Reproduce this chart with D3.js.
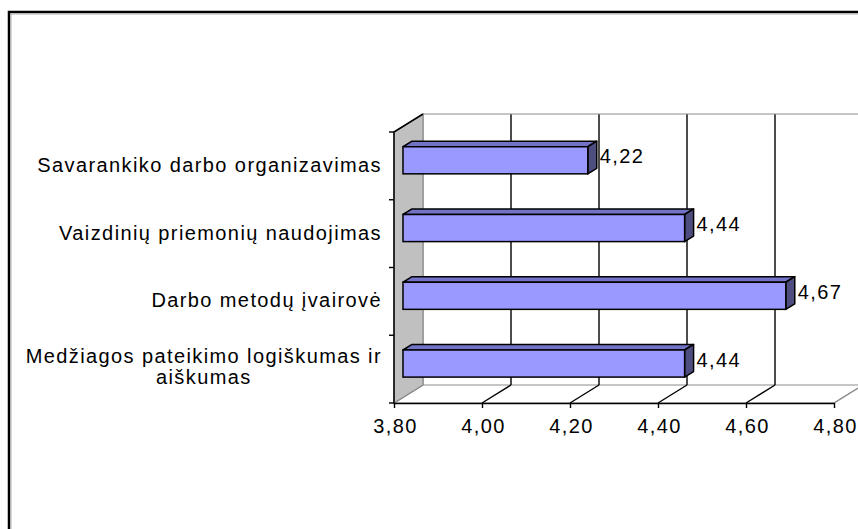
<!DOCTYPE html>
<html>
<head>
<meta charset="utf-8">
<script src="https://cdn.jsdelivr.net/npm/d3@7"></script>
<style>
  body { margin: 0; background: #fff; }
  svg { display: block; }
  text { font-family: "Liberation Sans", Arial, sans-serif; font-size: 20px; letter-spacing: 1.4px; fill: #000; }
</style>
</head>
<body>
<div id="chart"></div>
<script>
  // categories top to bottom, as they appear on the chart
  const categories = [
    "Savarankiko darbo organizavimas",
    "Vaizdinių priemonių naudojimas",
    "Darbo metodų įvairovė",
    "Medžiagos pateikimo logiškumas ir aiškumas"
  ];
  const values = [4.22, 4.44, 4.67, 4.44];
  const xTicks = [3.80, 4.00, 4.20, 4.40, 4.60, 4.80];

  const W = 858, H = 529;
  // 3d box: offset of the back plane from the front plane
  const DX = 29, DY = 18;
  const barD0 = 0.31, barD1 = 0.62;  // depth span of the bars
  const barFrac = 0.4;
  const FS = 20;

  const lt = d3.formatLocale({decimal: ",", thousands: " ", grouping: [3], currency: ["", ""]});
  const fmt = lt.format(".2f");

  const svg = d3.select("#chart").append("svg")
    .attr("width", W)
    .attr("height", H);

  // chart area border
  svg.append("rect")
    .attr("x", 9).attr("y", 12)
    .attr("width", 1000).attr("height", 1000)
    .attr("fill", "#fff")
    .attr("stroke", "#000")
    .attr("stroke-width", 2.5);
  svg.append("path")
    .attr("d", "M11,1000V14H1000")
    .attr("fill", "none")
    .attr("stroke", "#b0b0b0")
    .attr("stroke-width", 1);

  const x = d3.scaleLinear()
    .domain([3.8, 4.8])
    .range([394, 834]);

  const y = d3.scaleBand()
    .domain(categories)
    .range([132, 403]);

  const x0 = x.range()[0], x1 = x.range()[1];
  const yTop = y.range()[0], yBot = y.range()[1];

  // back wall
  svg.append("rect")
    .attr("x", x0 + DX).attr("y", yTop - DY)
    .attr("width", x1 - x0).attr("height", yBot - yTop)
    .attr("fill", "#fff");

  // floor
  svg.append("path")
    .attr("d", `M${x0},${yBot}L${x1},${yBot}L${x1 + DX},${yBot - DY}L${x0 + DX},${yBot - DY}Z`)
    .attr("fill", "#fff")
    .attr("stroke", "#8c8c8c")
    .attr("stroke-width", 1.2);

  // gridlines: back wall and floor
  const grid = svg.append("g");
  xTicks.forEach(function (t, i) {
    const inner = i > 0 && i < xTicks.length - 1;
    const col = inner ? "#000" : "#8c8c8c";
    grid.append("line")
      .attr("x1", x(t) + DX).attr("x2", x(t) + DX)
      .attr("y1", yTop - DY).attr("y2", yBot - DY)
      .attr("stroke", col)
      .attr("stroke-width", inner ? 1.4 : 1.2);
    grid.append("line")
      .attr("x1", x(t)).attr("y1", yBot)
      .attr("x2", x(t) + DX).attr("y2", yBot - DY)
      .attr("stroke", col)
      .attr("stroke-width", inner ? 1.4 : 1.2);
  });
  // top edge of back wall
  grid.append("line")
    .attr("x1", x0 + DX).attr("x2", x1 + DX)
    .attr("y1", yTop - DY).attr("y2", yTop - DY)
    .attr("stroke", "#8c8c8c")
    .attr("stroke-width", 1.2);

  // left wall
  svg.append("path")
    .attr("d", `M${x0},${yTop}L${x0 + DX},${yTop - DY}L${x0 + DX},${yBot - DY}L${x0},${yBot}Z`)
    .attr("fill", "#c0c0c0")
    .attr("stroke", "#8c8c8c")
    .attr("stroke-width", 1.2);
  svg.append("path")
    .attr("d", `M${x0 + DX},${yTop - DY}L${x0},${yTop}L${x0},${yBot}`)
    .attr("fill", "none")
    .attr("stroke", "#000")
    .attr("stroke-width", 1.5);

  // category ticks on the front edge of the left wall
  const bounds = categories.map(function (c) { return y(c); }).concat([yBot]);
  svg.append("g").selectAll("line")
    .data(bounds)
    .join("line")
    .attr("x1", x0 - 5).attr("x2", x0)
    .attr("y1", function (d) { return d; })
    .attr("y2", function (d) { return d; })
    .attr("stroke", "#000")
    .attr("stroke-width", 1.4);

  // bottom value axis
  const axis = svg.append("g")
    .attr("transform", "translate(0," + yBot + ")")
    .call(d3.axisBottom(x)
      .tickValues(xTicks)
      .tickFormat(fmt)
      .tickSize(5)
      .tickSizeOuter(0)
      .tickPadding(11));
  axis.attr("font-family", null).attr("font-size", null);
  axis.select(".domain").attr("stroke", "#000").attr("stroke-width", 1.5);
  axis.selectAll(".tick line").attr("stroke", "#000").attr("stroke-width", 1.4);
  axis.selectAll(".tick text")
    .attr("fill", "#000")
    .attr("dx", "0.05em");

  // bars
  const dd = barD1 - barD0;
  const bars = svg.append("g")
    .selectAll("g")
    .data(categories.map(function (c, i) { return {cat: c, value: values[i]}; }))
    .join("g");

  function frontBox(d) {
    const bh = y.bandwidth() * barFrac;
    const yc = y(d.cat) + y.bandwidth() / 2 - barD0 * DY;
    return {
      l: x(3.8) + barD0 * DX,
      r: x(d.value) + barD0 * DX,
      t: yc - bh / 2,
      b: yc + bh / 2,
      c: yc
    };
  }

  bars.append("path")
    .attr("d", function (d) {
      const f = frontBox(d);
      return `M${f.l},${f.t}L${f.r},${f.t}L${f.r + dd * DX},${f.t - dd * DY}L${f.l + dd * DX},${f.t - dd * DY}Z`;
    })
    .attr("fill", "#7272c6")
    .attr("stroke", "#000")
    .attr("stroke-width", 1.5)
    .attr("stroke-linejoin", "round");

  bars.append("path")
    .attr("d", function (d) {
      const f = frontBox(d);
      return `M${f.r},${f.t}L${f.r + dd * DX},${f.t - dd * DY}L${f.r + dd * DX},${f.b - dd * DY}L${f.r},${f.b}Z`;
    })
    .attr("fill", "#4d4d80")
    .attr("stroke", "#000")
    .attr("stroke-width", 1.5)
    .attr("stroke-linejoin", "round");

  bars.append("rect")
    .attr("x", function (d) { return frontBox(d).l; })
    .attr("y", function (d) { return frontBox(d).t; })
    .attr("width", function (d) { const f = frontBox(d); return f.r - f.l; })
    .attr("height", function (d) { const f = frontBox(d); return f.b - f.t; })
    .attr("fill", "#9999ff")
    .attr("stroke", "#000")
    .attr("stroke-width", 1.5);

  // value labels
  bars.append("text")
    .attr("x", function (d) { return frontBox(d).r + dd * DX + 3; })
    .attr("y", function (d) { return frontBox(d).c - 4; })
    .attr("dy", "0.35em")
    .text(function (d) { return fmt(d.value); });

  // category labels, wrapped and centred in a right aligned block
  const labelRight = 382, maxW = 372, lineH = 21;
  const labels = svg.append("g");
  categories.forEach(function (c) {
    const words = c.split(" ");
    const lines = [];
    let cur = "";
    const probe = labels.append("text");
    words.forEach(function (w) {
      const tryLine = cur ? cur + " " + w : w;
      probe.text(tryLine);
      if (probe.node().getComputedTextLength() > maxW && cur) {
        lines.push(cur);
        cur = w;
      } else {
        cur = tryLine;
      }
    });
    lines.push(cur);
    const widths = lines.map(function (l) {
      probe.text(l);
      return probe.node().getComputedTextLength();
    });
    probe.remove();
    const blockW = d3.max(widths);
    const cx = labelRight - blockW / 2;
    const yc = y(c) + y.bandwidth() / 2;
    const y0 = yc - (lines.length - 1) * lineH / 2 + 0.35 * FS - (lines.length > 1 ? 3 : 1);
    lines.forEach(function (l, i) {
      labels.append("text")
        .attr("x", cx)
        .attr("y", y0 + i * lineH)
        .attr("text-anchor", "middle")
        .text(l);
    });
  });
</script>
</body>
</html>
